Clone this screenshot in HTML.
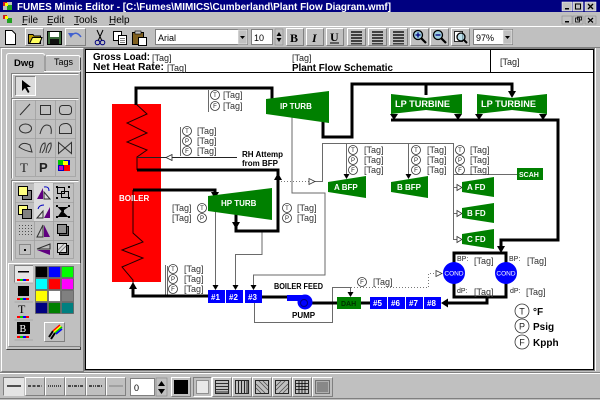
<!DOCTYPE html>
<html><head><meta charset="utf-8">
<style>
html,body{margin:0;padding:0;background:#c0c0c0;}
svg{display:block;font-family:"Liberation Sans",Arial,sans-serif;}
</style></head><body>
<svg width="600" height="400" viewBox="0 0 600 400" xmlns="http://www.w3.org/2000/svg">
<rect width="600" height="400" fill="#c0c0c0"/>

<!-- ===== TITLE BAR ===== -->
<rect x="0" y="0" width="600" height="12" fill="#000080"/>
<rect x="3" y="2" width="9" height="8" fill="#c0c0c0"/><rect x="3" y="2" width="4" height="4" fill="#d02020"/><rect x="7" y="5" width="5" height="5" fill="#20a020"/><rect x="5" y="3" width="3" height="3" fill="#ffff00"/>
<text x="17" y="10" font-size="10" font-weight="bold" fill="#fff" textLength="374" lengthAdjust="spacingAndGlyphs">FUMES Mimic Editor - [C:\Fumes\MIMICS\Cumberland\Plant Flow Diagram.wmf]</text>
<g>
<rect x="562" y="2" width="10" height="9" fill="#c0c0c0" stroke="#fff" stroke-width="0.5"/><rect x="565" y="8" width="4" height="1.5" fill="#000"/>
<rect x="573" y="2" width="10" height="9" fill="#c0c0c0" stroke="#fff" stroke-width="0.5"/><rect x="575.5" y="4" width="5" height="5" fill="none" stroke="#000"/>
<rect x="585" y="2" width="11" height="9" fill="#c0c0c0" stroke="#fff" stroke-width="0.5"/><path d="M588,4 L593,9 M593,4 L588,9" stroke="#000" stroke-width="1.3"/>
</g>

<!-- ===== MENU BAR ===== -->
<rect x="3" y="15" width="9" height="8" fill="#c0c0c0"/><rect x="3" y="15" width="4" height="4" fill="#d02020"/><rect x="7" y="18" width="5" height="5" fill="#20a020"/><rect x="5" y="16" width="3" height="3" fill="#ffff00"/>
<g font-size="10" fill="#000">
<text x="22" y="23">File</text><rect x="22" y="24" width="5" height="0.8" fill="#000"/>
<text x="47" y="23">Edit</text><rect x="47" y="24" width="5" height="0.8" fill="#000"/>
<text x="74" y="23">Tools</text><rect x="74" y="24" width="5" height="0.8" fill="#000"/>
<text x="109" y="23">Help</text><rect x="109" y="24" width="6" height="0.8" fill="#000"/>
</g>
<g>
<rect x="562" y="16" width="10" height="8" fill="#c0c0c0" stroke="#808080" stroke-width="0.5"/><rect x="565" y="21" width="4" height="1.5" fill="#000"/>
<rect x="573" y="16" width="10" height="8" fill="#c0c0c0" stroke="#808080" stroke-width="0.5"/><rect x="575.5" y="18" width="4" height="4" fill="none" stroke="#000" stroke-width="0.8"/><rect x="577.5" y="17" width="4" height="3" fill="none" stroke="#000" stroke-width="0.8"/>
<rect x="585" y="16" width="11" height="8" fill="#c0c0c0" stroke="#808080" stroke-width="0.5"/><path d="M588,18 L593,22.5 M593,18 L588,22.5" stroke="#000" stroke-width="1.2"/>
</g>

<!-- ===== TOOLBAR ===== -->
<line x1="0" y1="26.5" x2="600" y2="26.5" stroke="#fff"/>
<line x1="0" y1="47.5" x2="600" y2="47.5" stroke="#808080"/>
<!-- new -->
<path d="M5.5,30.5 H12 L15.5,34 V44.5 H5.5 Z" fill="#fff" stroke="#000"/>
<!-- open (raised) -->
<path d="M25.5,45.5 V28.5 H43.5" stroke="#fff" fill="none"/><path d="M25.5,45.5 H43.5 V28.5" stroke="#808080" fill="none"/>
<path d="M28.5,34.5 H33 L34,36 H40.5 V43.5 H28.5 Z" fill="#c0a000" stroke="#000"/><path d="M29.5,43.5 L32.5,37.5 H42 L39.5,43.5 Z" fill="#ffff60" stroke="#000"/>
<!-- save -->
<rect x="47.5" y="31.5" width="14" height="13" fill="#3a6a3a" stroke="#000"/><rect x="50" y="32" width="9" height="5" fill="#fff"/><rect x="50" y="39" width="9" height="5" fill="#101010"/>
<!-- undo (raised) -->
<path d="M65.5,45.5 V28.5 H85.5" stroke="#fff" fill="none"/><path d="M65.5,45.5 H85.5 V28.5" stroke="#808080" fill="none"/>
<path d="M71,36 Q76,30 81,37" stroke="#4060d0" stroke-width="1.5" fill="none"/><polygon points="68,33 73,33 71,38" fill="#4060d0"/>
<!-- cut -->
<path d="M97,30 L102,41 M103,30 L98,41" stroke="#000" stroke-width="1"/><circle cx="97.5" cy="42.5" r="2.3" fill="none" stroke="#000080"/><circle cx="102.5" cy="42.5" r="2.3" fill="none" stroke="#000080"/>
<!-- copy -->
<rect x="113.5" y="31.5" width="8" height="9" fill="#fff" stroke="#000"/><rect x="118.5" y="35.5" width="8" height="9" fill="#fff" stroke="#000"/><path d="M120,38.5 H125 M120,40.5 H125 M120,42.5 H125" stroke="#000" stroke-width="0.6"/>
<!-- paste -->
<rect x="132.5" y="32.5" width="11" height="12" fill="#806020" stroke="#000"/><rect x="135" y="31" width="6" height="3" fill="#c0c0c0" stroke="#000" stroke-width="0.6"/><rect x="138.5" y="37.5" width="8" height="8" fill="#fff" stroke="#000"/>
<!-- font combo -->
<rect x="155" y="29" width="93" height="16" fill="#808080"/><rect x="156" y="30" width="91" height="14" fill="#fff"/>
<text x="158" y="41" font-size="9" fill="#000">Arial</text>
<rect x="238" y="30" width="9" height="14" fill="#c0c0c0" stroke="#fff" stroke-width="0.5"/><polygon points="240,36 245,36 242.5,39" fill="#000"/>
<!-- size -->
<rect x="251" y="29" width="22" height="16" fill="#808080"/><rect x="252" y="30" width="20" height="14" fill="#fff"/>
<text x="254" y="41" font-size="9" fill="#000">10</text>
<rect x="275" y="29" width="8" height="16" fill="#c0c0c0" stroke="#808080" stroke-width="0.5"/><polygon points="276.5,36 281.5,36 279,32" fill="#000"/><polygon points="276.5,38 281.5,38 279,42" fill="#000"/>
<!-- B I U -->
<g fill="none">
<path d="M286.5,45.5 V28.5 H303.5" stroke="#fff"/><path d="M286.5,45.5 H303.5 V28.5" stroke="#808080"/>
<path d="M306.5,45.5 V28.5 H323.5" stroke="#fff"/><path d="M306.5,45.5 H323.5 V28.5" stroke="#808080"/>
<path d="M326.5,45.5 V28.5 H343.5" stroke="#fff"/><path d="M326.5,45.5 H343.5 V28.5" stroke="#808080"/>
<path d="M347.5,45.5 V28.5 H365.5" stroke="#fff"/><path d="M347.5,45.5 H365.5 V28.5" stroke="#808080"/>
<path d="M368.5,45.5 V28.5 H386.5" stroke="#fff"/><path d="M368.5,45.5 H386.5 V28.5" stroke="#808080"/>
<path d="M389.5,45.5 V28.5 H407.5" stroke="#fff"/><path d="M389.5,45.5 H407.5 V28.5" stroke="#808080"/>
<path d="M410.5,45.5 V28.5 H428.5" stroke="#fff"/><path d="M410.5,45.5 H428.5 V28.5" stroke="#808080"/>
<path d="M430.5,45.5 V28.5 H448.5" stroke="#fff"/><path d="M430.5,45.5 H448.5 V28.5" stroke="#808080"/>
<path d="M451.5,45.5 V28.5 H469.5" stroke="#fff"/><path d="M451.5,45.5 H469.5 V28.5" stroke="#808080"/>
</g>
<text x="290" y="42" font-size="12" font-weight="bold" font-family="Liberation Serif, serif" fill="#000">B</text>
<text x="312" y="42" font-size="12" font-weight="bold" font-style="italic" font-family="Liberation Serif, serif" fill="#000">I</text>
<text x="330" y="41" font-size="12" font-weight="bold" font-family="Liberation Serif, serif" fill="#000">U</text><rect x="330" y="42.5" width="9" height="1" fill="#000"/>
<g fill="#404040">
<rect x="351" y="31" width="11" height="2"/><rect x="351" y="34" width="11" height="2"/><rect x="351" y="37" width="11" height="2"/><rect x="351" y="40" width="11" height="2"/><rect x="351" y="43" width="11" height="1.5"/>
<rect x="372" y="31" width="11" height="2"/><rect x="372" y="34" width="11" height="2"/><rect x="372" y="37" width="11" height="2"/><rect x="372" y="40" width="11" height="2"/><rect x="372" y="43" width="11" height="1.5"/>
<rect x="393" y="31" width="11" height="2"/><rect x="393" y="34" width="11" height="2"/><rect x="393" y="37" width="11" height="2"/><rect x="393" y="40" width="11" height="2"/><rect x="393" y="43" width="11" height="1.5"/>
</g>
<!-- zoom icons -->
<g stroke-width="1.3">
<circle cx="418" cy="35" r="4.5" fill="#a0d0e0" stroke="#000"/><path d="M421,38 L426,43" stroke="#000" stroke-width="2.2"/><path d="M415.5,35 H420.5 M418,32.5 V37.5" stroke="#000080"/>
<circle cx="438" cy="35" r="4.5" fill="#a0d0e0" stroke="#000"/><path d="M441,38 L446,43" stroke="#000" stroke-width="2.2"/><path d="M435.5,35 H440.5" stroke="#000080"/>
<rect x="454.5" y="31.5" width="8" height="10" fill="#fff" stroke="#000" stroke-width="0.8"/><circle cx="461" cy="37" r="4" fill="#a0d0e0" fill-opacity="0.7" stroke="#000"/><path d="M464,40 L467,43" stroke="#000" stroke-width="2"/>
</g>
<!-- 97% combo -->
<rect x="473" y="29" width="40" height="16" fill="#808080"/><rect x="474" y="30" width="38" height="14" fill="#fff"/>
<text x="476" y="41" font-size="9" fill="#000">97%</text>
<rect x="503" y="30" width="9" height="14" fill="#c0c0c0" stroke="#fff" stroke-width="0.5"/><polygon points="505,36 510,36 507.5,39" fill="#000"/>

<!-- ===== LEFT PANEL ===== -->
<path d="M1.5,371.5 V48.5 H83.5" stroke="#fff" fill="none"/>
<path d="M1.5,371.5 H83.5 V48.5" stroke="#808080" fill="none"/>
<!-- tabs -->
<path d="M45.5,70 V57.5 Q45.5,55.5 47.5,55.5 H78 Q80,55.5 80,57.5 V70" fill="#c0c0c0" stroke="#fff"/>
<path d="M80.5,57.5 V70" stroke="#404040"/>
<text x="54" y="65" font-size="9" fill="#000">Tags</text>
<path d="M6.5,349 V71.5 H7.5 M45,71.5 H80.5" stroke="#fff" fill="none"/>
<path d="M6.5,349.5 H80.5 V71.5" stroke="#404040" fill="none"/>
<path d="M6.5,72 V56 Q6.5,53.5 9,53.5 H42.5 Q44.5,53.5 44.5,56 V72" fill="#c0c0c0" stroke="#fff"/>
<path d="M45,55.5 V71" stroke="#404040"/>
<text x="14" y="66" font-size="9.5" font-weight="bold" fill="#000">Dwg</text>

<!-- group frames -->
<g fill="none">
<path d="M11.5,97.5 V73.5 H78.5" stroke="#808080"/><path d="M12.5,97.5 V74.5 H78.5" stroke="#fff"/>
<path d="M11.5,178.5 V98.5 H78.5" stroke="#808080"/><path d="M12.5,178.5 V99.5 H78.5" stroke="#fff"/>
<path d="M11.5,260.5 V180.5 H78.5" stroke="#808080"/><path d="M12.5,260.5 V181.5 H78.5" stroke="#fff"/>
<path d="M8.5,346.5 V263.5 H80.5" stroke="#fff"/><path d="M8.5,346.5 H80.5 V263.5" stroke="#808080"/>
</g>
<!-- arrow button (pressed) -->
<rect x="15" y="76" width="20" height="20" fill="#dcdcdc"/>
<path d="M15.5,95.5 V76.5 H35" stroke="#808080" fill="none"/><path d="M15.5,95.5 H35.5 V76.5" stroke="#fff" fill="none"/>
<polygon points="22,80 22,91 25,88 28,93 29.5,92 27,87 31,87" fill="#000"/>

<!-- tool grid -->
<g fill="none" stroke="#a0a0a0" stroke-width="0.8">
<path d="M15.5,100 V176 M35.5,100 V176 M55.5,100 V176 M75.5,100 V176"/>
<path d="M15,100.5 H76 M15,119.5 H76 M15,138.5 H76 M15,157.5 H76 M15,176.5 H76"/>
</g>
<g fill="none" stroke="#303030" stroke-width="1">
<path d="M20,115 L30,104"/>
<rect x="40.5" y="105.5" width="10" height="9"/>
<rect x="59.5" y="105.5" width="12" height="9" rx="3"/>
<ellipse cx="25.5" cy="128.5" rx="6" ry="4.5"/>
<path d="M40,134 Q43,122 50,126 Q52,129 51,134"/>
<path d="M59.5,133.5 V127 Q61,123 67,123.5 Q71.5,125 71.5,130 V133.5 Z"/>
<path d="M19,147 Q22,141 30,145 L32,152 Q25,151 19,147 Z"/>
<path d="M40,153 Q41,143 45,143 Q46,148 42,153 M46,153 Q47,143 51,143 Q52,148 48,153"/>
<path d="M58.5,142.5 L71.5,153.5 V142.5 L58.5,153.5 Z"/>
</g>
<text x="20" y="172" font-size="13" font-family="Liberation Serif, serif" fill="#202020">T</text>
<text x="39" y="172" font-size="13" font-weight="bold" fill="#202020">P</text>
<rect x="58" y="160" width="12" height="11" fill="#0000c0"/><rect x="58" y="160" width="6" height="5" fill="#00c000"/><rect x="64" y="165" width="6" height="6" fill="#ff0000"/><rect x="63" y="161" width="5" height="4" fill="#ffff00"/><rect x="59" y="166" width="4" height="4" fill="#c000c0"/>

<!-- arrange grid -->
<g fill="none" stroke="#a0a0a0" stroke-width="0.8">
<path d="M15.5,183 V258 M34.5,183 V258 M53.5,183 V258 M73.5,183 V258"/>
<path d="M15,183.5 H74 M15,202.5 H74 M15,221.5 H74 M15,240.5 H74 M15,258.5 H74"/>
</g>
<rect x="34" y="183" width="19" height="38" fill="#dcdcdc"/>
<rect x="22.5" y="190.5" width="9" height="9" fill="#808080" stroke="#000"/><rect x="18.5" y="186.5" width="9" height="9" fill="#ffff80" stroke="#000"/>
<rect x="18.5" y="205.5" width="9" height="9" fill="#ffff80" stroke="#000"/><rect x="22.5" y="209.5" width="9" height="9" fill="#808080" stroke="#000"/>
<polygon points="37,199 43,188 43,199" fill="#600080"/><polygon points="44,199 50,199 44,192" fill="none" stroke="#303030"/><path d="M44,187 Q49,186 49,191" stroke="#0000c0" fill="none"/>
<polygon points="44,218 50,207 50,218" fill="#600080"/><polygon points="37,218 43,218 43,211" fill="none" stroke="#303030"/><path d="M38,209 Q39,205 44,205" stroke="#0000c0" fill="none"/>
<g fill="none" stroke="#000"><rect x="57.5" y="187.5" width="7" height="6"/><rect x="61.5" y="191.5" width="7" height="6"/></g>
<g fill="#000"><rect x="56" y="186" width="2" height="2"/><rect x="68" y="186" width="2" height="2"/><rect x="56" y="197" width="2" height="2"/><rect x="68" y="197" width="2" height="2"/>
<rect x="56" y="205" width="2" height="2"/><rect x="68" y="205" width="2" height="2"/><rect x="56" y="216" width="2" height="2"/><rect x="68" y="216" width="2" height="2"/><rect x="62" y="210" width="2" height="2"/></g>
<path d="M58,207 L62,211 L68,207 M58,217 L62,211 L68,217" stroke="#000" stroke-width="0.7"/>
<g fill="#505050">
<rect x="19" y="225" width="1" height="1"/><rect x="22" y="225" width="1" height="1"/><rect x="25" y="225" width="1" height="1"/><rect x="28" y="225" width="1" height="1"/><rect x="31" y="225" width="1" height="1"/>
<rect x="19" y="228" width="1" height="1"/><rect x="22" y="228" width="1" height="1"/><rect x="25" y="228" width="1" height="1"/><rect x="28" y="228" width="1" height="1"/><rect x="31" y="228" width="1" height="1"/>
<rect x="19" y="231" width="1" height="1"/><rect x="22" y="231" width="1" height="1"/><rect x="25" y="231" width="1" height="1"/><rect x="28" y="231" width="1" height="1"/><rect x="31" y="231" width="1" height="1"/>
<rect x="19" y="234" width="1" height="1"/><rect x="22" y="234" width="1" height="1"/><rect x="25" y="234" width="1" height="1"/><rect x="28" y="234" width="1" height="1"/><rect x="31" y="234" width="1" height="1"/>
</g>
<polygon points="43,225 43,237 37,237" fill="none" stroke="#303030"/><polygon points="44,225 44,237 50,237" fill="#600080"/>
<rect x="59.5" y="226.5" width="9" height="9" fill="#606060" stroke="#000"/><rect x="57.5" y="224.5" width="9" height="9" fill="#909090" stroke="#000"/>
<rect x="19.5" y="244.5" width="11" height="10" fill="none" stroke="#505050" stroke-dasharray="1,1"/><rect x="24" y="249" width="2" height="2" fill="#000"/>
<polygon points="37,249 50,244 50,249" fill="none" stroke="#303030"/><polygon points="37,250 50,250 50,255" fill="#600080"/>
<rect x="59.5" y="245.5" width="9" height="9" fill="#606060" stroke="#000"/><rect x="57.5" y="243.5" width="9" height="9" fill="#e0e0e0" stroke="#000"/><path d="M58,250 L64,244 M60,252 L66,246" stroke="#808080"/>

<!-- color group -->
<rect x="14" y="265" width="19" height="18" fill="#e4e4e4"/>
<path d="M14.5,282.5 V265.5 H33" stroke="#808080" fill="none"/>
<rect x="18" y="271" width="11" height="1.5" fill="#000"/>
<g>
<rect x="17" y="279" width="3" height="2" fill="#f00"/><rect x="20" y="279" width="3" height="2" fill="#0c0"/><rect x="23" y="279" width="3" height="2" fill="#00f"/><rect x="26" y="279" width="3" height="2" fill="#f00"/>
<rect x="17" y="298" width="3" height="2" fill="#f00"/><rect x="20" y="298" width="3" height="2" fill="#0c0"/><rect x="23" y="298" width="3" height="2" fill="#00f"/><rect x="26" y="298" width="3" height="2" fill="#f00"/>
<rect x="17" y="316" width="3" height="2" fill="#f00"/><rect x="20" y="316" width="3" height="2" fill="#0c0"/><rect x="23" y="316" width="3" height="2" fill="#00f"/><rect x="26" y="316" width="3" height="2" fill="#f00"/>
<rect x="17" y="336" width="3" height="2" fill="#f00"/><rect x="20" y="336" width="3" height="2" fill="#0c0"/><rect x="23" y="336" width="3" height="2" fill="#00f"/><rect x="26" y="336" width="3" height="2" fill="#f00"/>
</g>
<rect x="18" y="286" width="11" height="10" fill="#000"/>
<text x="18" y="313" font-size="12" font-family="Liberation Serif, serif" fill="#000">T</text>
<rect x="17" y="322" width="13" height="12" fill="#000"/>
<text x="19.5" y="332" font-size="10" font-family="Liberation Serif, serif" fill="#fff">B</text>
<path d="M14.5,283 H33 M14.5,302 H33 M14.5,320 H33 M14.5,340 H33" stroke="#a0a0a0" stroke-width="0.7"/>
<g stroke="#606060" stroke-width="0.8">
<rect x="35.5" y="266.5" width="12" height="11" fill="#000"/><rect x="48.5" y="266.5" width="12" height="11" fill="#0000ff"/><rect x="61.5" y="266.5" width="12" height="11" fill="#00ff00"/>
<rect x="35.5" y="278.5" width="12" height="11" fill="#00ffff"/><rect x="48.5" y="278.5" width="12" height="11" fill="#ff0000"/><rect x="61.5" y="278.5" width="12" height="11" fill="#ff00ff"/>
<rect x="35.5" y="290.5" width="12" height="11" fill="#ffff00"/><rect x="48.5" y="290.5" width="12" height="11" fill="#ffffff"/><rect x="61.5" y="290.5" width="12" height="11" fill="#808080"/>
<rect x="35.5" y="302.5" width="12" height="11" fill="#000080"/><rect x="48.5" y="302.5" width="12" height="11" fill="#008000"/><rect x="61.5" y="302.5" width="12" height="11" fill="#008080"/>
</g>
<path d="M44.5,341.5 V322.5 H64.5" stroke="#fff" fill="none"/><path d="M44.5,341.5 H64.5 V322.5" stroke="#808080" fill="none"/>
<path d="M49,337 L53,331 M51,339 L55,333" stroke="#000" stroke-width="2"/>
<path d="M53,331 L60,325" stroke="#f00" stroke-width="1.5"/><path d="M54,332 L61,326" stroke="#ff0" stroke-width="1.5"/><path d="M55,333 L62,327" stroke="#0c0" stroke-width="1.5"/><path d="M56,334 L62,329" stroke="#00f" stroke-width="1.5"/>

<!-- ===== CANVAS ===== -->
<rect x="84.5" y="48.5" width="510" height="322" fill="none" stroke="#808080"/>
<rect x="85.5" y="49.5" width="508" height="320" fill="#fff" stroke="#000"/>
<line x1="595.5" y1="48" x2="595.5" y2="371" stroke="#fff"/>
<line x1="86" y1="72.5" x2="593" y2="72.5" stroke="#000"/>
<line x1="490.5" y1="50" x2="490.5" y2="72" stroke="#000"/>
<text x="93" y="60" font-size="10" font-weight="bold" fill="#000" textLength="57" lengthAdjust="spacingAndGlyphs">Gross Load:</text>
<text x="152" y="61" font-size="9" fill="#222">[Tag]</text>
<text x="93" y="70" font-size="10" font-weight="bold" fill="#000" textLength="71" lengthAdjust="spacingAndGlyphs">Net Heat Rate:</text>
<text x="167" y="71" font-size="9" fill="#222">[Tag]</text>
<text x="292" y="61" font-size="9" fill="#222">[Tag]</text>
<text x="292" y="71" font-size="10" font-weight="bold" fill="#000" textLength="101" lengthAdjust="spacingAndGlyphs">Plant Flow Schematic</text>
<text x="500" y="65" font-size="9" fill="#222">[Tag]</text>

<!-- ===== DIAGRAM ===== -->
<!-- boiler -->
<rect x="112" y="104" width="49" height="178" fill="#ff0000"/>
<polyline points="136,104 147,114 127,123 147,133 127,142 147,150 137,157 137,170" fill="none" stroke="#200000" stroke-width="1"/>
<polyline points="133,190 133,233 143,242 122,250 143,258 122,267 133,280 133,283" fill="none" stroke="#200000" stroke-width="1"/>
<text x="119" y="201" font-size="8" font-weight="bold" fill="#fff">BOILER</text>

<!-- thin gray lines -->
<g fill="none" stroke="#6a6a6a" stroke-width="1">
<path d="M292,117 V193 H325 V275 H253.5 V287"/>
<path d="M215.5,210 V287"/>
<path d="M262,232 V254.5 H235.5 V287"/>
<path d="M315,181.5 H322.5 V143.5 H453.5 V239.5 H457"/>
<path d="M346.5,143 V175"/>
<path d="M408.5,143 V175"/>
<path d="M453,187.5 H457 M453,213.5 H457"/>
<path d="M453,174.5 H517"/>
<path d="M254.5,303 V322.5 H332.5 V287.5 H350.5 V294"/>
<path d="M208.5,90 V112"/>
<path d="M180.5,127 V156"/>
<path d="M165.5,265 V296 M167.5,266 V296"/>
</g>
<path d="M237,157.5 H137" stroke="#222" stroke-width="1"/>
<polygon points="166,157.5 172,154.5 172,160.5" fill="#fff" stroke="#222" stroke-width="0.8"/>
<!-- dotted -->
<g fill="none" stroke="#777" stroke-width="1" stroke-dasharray="1,2">
<path d="M278,181.5 H309"/>
<path d="M351,287.5 H428.5 V273.5 H436"/>
</g>
<polygon points="309,178.5 309,184.5 315,181.5" fill="#fff" stroke="#333" stroke-width="0.8"/>
<polygon points="436,270.5 436,276.5 442,273.5" fill="#fff" stroke="#333" stroke-width="0.8"/>
<polygon points="457,184.5 457,190.5 462,187.5" fill="#fff" stroke="#333" stroke-width="0.8"/>
<polygon points="457,210.5 457,216.5 462,213.5" fill="#fff" stroke="#333" stroke-width="0.8"/>
<polygon points="457,236.5 457,242.5 462,239.5" fill="#fff" stroke="#333" stroke-width="0.8"/>
<!-- thin arrowheads -->
<g fill="#000">
<polygon points="343.5,174 349.5,174 346.5,179"/>
<polygon points="405.5,174 411.5,174 408.5,179"/>
<polygon points="212.5,285 218.5,285 215.5,290"/>
<polygon points="232.5,285 238.5,285 235.5,290"/>
<polygon points="250.5,285 256.5,285 253.5,290"/>
<polygon points="347.5,292 353.5,292 350.5,297"/>
</g>

<!-- thick lines -->
<g fill="none" stroke="#000" stroke-width="3">
<path d="M136,105 V88 H272 V99"/>
<path d="M323,122 V137 H352 V84 H512 V92"/>
<path d="M426,84 V95"/>
<path d="M391,120 H558 V240 H501 V247"/>
<rect x="454" y="253" width="52" height="44"/>
<path d="M487,297 V303 H446"/>
<path d="M361,303 H370"/>
<path d="M312,303 H337"/>
<path d="M262,297 H288"/>
<path d="M208,296 H133 V288"/>
<path d="M133,190 H215 V193"/>
<path d="M236,212 V231 H278 V170 H137"/>
</g>
<g fill="#000">
<polygon points="508,91 516,91 512,98"/>
<polygon points="497,246 505,246 501,253"/>
<polygon points="448,298.5 448,307.5 441,303"/>
<polygon points="129,289 137,289 133,282"/>
<polygon points="211,192 219,192 215,199"/>
<polygon points="232,222 240,222 236,229"/>
<polygon points="274,180 282,180 278,173"/>
<polygon points="390,114 398,114 394,120"/>
<polygon points="454,114 462,114 458,120"/>
<polygon points="475,114 483,114 479,120"/>
<polygon points="539,114 547,114 543,120"/>
</g>

<!-- turbines and equipment -->
<g fill="#008000">
<polygon points="266,99 329,91 329,123 266,114"/>
<polygon points="208,196 272,188 272,220 208,211"/>
<polygon points="391,94 426,98 462,94 462,114 426,110 391,114"/>
<polygon points="477,94 512,98 547,94 547,114 512,110 477,114"/>
<polygon points="328,182 366,176 366,198 328,192"/>
<polygon points="391,182 428,176 428,198 391,192"/>
<polygon points="462,182 494,177 494,197 462,192"/>
<polygon points="462,208 494,203 494,223 462,218"/>
<polygon points="462,234 494,229 494,249 462,244"/>
<rect x="517" y="168" width="26" height="12"/>
<rect x="337" y="297" width="24" height="12"/>
</g>
<g font-weight="bold" fill="#fff">
<text x="280" y="109" font-size="8">IP TURB</text>
<text x="221" y="206" font-size="8">HP TURB</text>
<text x="395" y="107" font-size="9" textLength="55" lengthAdjust="spacingAndGlyphs">LP TURBINE</text>
<text x="481" y="107" font-size="9" textLength="55" lengthAdjust="spacingAndGlyphs">LP TURBINE</text>
<text x="334" y="190" font-size="8">A BFP</text>
<text x="397" y="190" font-size="8">B BFP</text>
<text x="467" y="190" font-size="8">A FD</text>
<text x="467" y="216" font-size="8">B FD</text>
<text x="467" y="242" font-size="8">C FD</text>
<text x="519" y="177" font-size="7">SCAH</text>
</g>
<text x="341" y="306" font-size="7" font-weight="bold" fill="#003000">DAH</text>

<!-- feedwater heaters -->
<g fill="#0000ff">
<rect x="208" y="290" width="17" height="13"/><rect x="226" y="290" width="17" height="13"/><rect x="245" y="290" width="17" height="13"/>
<rect x="370" y="297" width="17" height="12"/><rect x="388" y="297" width="17" height="12"/><rect x="406" y="297" width="17" height="12"/><rect x="424" y="297" width="17" height="12"/>
</g>
<g font-size="8" font-weight="bold" fill="#fff">
<text x="211" y="300">#1</text><text x="229" y="300">#2</text><text x="248" y="300">#3</text>
<text x="373" y="306">#5</text><text x="391" y="306">#6</text><text x="409" y="306">#7</text><text x="427" y="306">#8</text>
</g>

<!-- pump -->
<rect x="287" y="295" width="18" height="6" fill="#0000ff"/>
<circle cx="305" cy="302" r="7.5" fill="#0000ff"/>
<circle cx="304" cy="303" r="3.5" fill="none" stroke="#000080" stroke-width="1"/>
<text x="274" y="289" font-size="8" font-weight="bold" fill="#000" textLength="49" lengthAdjust="spacingAndGlyphs">BOILER FEED</text>
<text x="292" y="318" font-size="8" font-weight="bold" fill="#000">PUMP</text>

<!-- condensers -->
<circle cx="454" cy="273" r="11" fill="#0000ff"/>
<circle cx="506" cy="273" r="11" fill="#0000ff"/>
<text x="454" y="275.5" font-size="6.5" fill="#fff" text-anchor="middle">COND</text>
<text x="506" y="275.5" font-size="6.5" fill="#fff" text-anchor="middle">COND</text>
<g font-size="7" fill="#222">
<text x="457" y="261">BP:</text><text x="509" y="261">BP:</text>
<text x="457" y="293">dP:</text><text x="510" y="293">dP:</text>
</g>

<!-- RH attemp label -->
<text x="242" y="157" font-size="8" font-weight="bold" fill="#000">RH Attemp</text>
<text x="242" y="166" font-size="8" font-weight="bold" fill="#000">from BFP</text>

<!-- tag circles -->
<g fill="#fff" stroke="#333" stroke-width="0.8">
<circle cx="215" cy="95" r="4.5"/><circle cx="215" cy="106" r="4.5"/>
<circle cx="187" cy="131" r="4.5"/><circle cx="187" cy="141" r="4.5"/><circle cx="187" cy="151" r="4.5"/>
<circle cx="202" cy="208" r="4.5"/><circle cx="202" cy="218" r="4.5"/>
<circle cx="287" cy="208" r="4.5"/><circle cx="287" cy="218" r="4.5"/>
<circle cx="173" cy="269" r="4.5"/><circle cx="173" cy="279" r="4.5"/><circle cx="173" cy="289" r="4.5"/>
<circle cx="353" cy="150" r="4.5"/><circle cx="353" cy="160" r="4.5"/><circle cx="353" cy="170" r="4.5"/>
<circle cx="416" cy="150" r="4.5"/><circle cx="416" cy="160" r="4.5"/><circle cx="416" cy="170" r="4.5"/>
<circle cx="460" cy="150" r="4.5"/><circle cx="460" cy="160" r="4.5"/><circle cx="460" cy="170" r="4.5"/>
<circle cx="362" cy="282" r="4.5"/>
<circle cx="522" cy="311" r="7"/><circle cx="522" cy="326" r="7"/><circle cx="522" cy="342" r="7"/>
</g>
<g font-size="6" fill="#222" text-anchor="middle">
<text x="215" y="97">T</text><text x="215" y="108">F</text>
<text x="187" y="133">T</text><text x="187" y="143">P</text><text x="187" y="153">F</text>
<text x="202" y="210">T</text><text x="202" y="220">P</text>
<text x="287" y="210">T</text><text x="287" y="220">P</text>
<text x="173" y="271">T</text><text x="173" y="281">P</text><text x="173" y="291">F</text>
<text x="353" y="152">T</text><text x="353" y="162">P</text><text x="353" y="172">F</text>
<text x="416" y="152">T</text><text x="416" y="162">P</text><text x="416" y="172">F</text>
<text x="460" y="152">T</text><text x="460" y="162">P</text><text x="460" y="172">F</text>
<text x="362" y="284">F</text>
</g>
<g font-size="9" fill="#222" text-anchor="middle">
<text x="522" y="314.5">T</text><text x="522" y="329.5">P</text><text x="522" y="345.5">F</text>
</g>
<g font-size="9" fill="#333">
<text x="223" y="98">[Tag]</text><text x="223" y="109">[Tag]</text>
<text x="197" y="134">[Tag]</text><text x="197" y="144">[Tag]</text><text x="197" y="154">[Tag]</text>
<text x="172" y="211">[Tag]</text><text x="172" y="221">[Tag]</text>
<text x="297" y="211">[Tag]</text><text x="297" y="221">[Tag]</text>
<text x="184" y="272">[Tag]</text><text x="184" y="282">[Tag]</text><text x="184" y="292">[Tag]</text>
<text x="364" y="153">[Tag]</text><text x="364" y="163">[Tag]</text><text x="364" y="173">[Tag]</text>
<text x="427" y="153">[Tag]</text><text x="427" y="163">[Tag]</text><text x="427" y="173">[Tag]</text>
<text x="470" y="153">[Tag]</text><text x="470" y="163">[Tag]</text><text x="470" y="173">[Tag]</text>
<text x="373" y="285">[Tag]</text>
<text x="474" y="264">[Tag]</text><text x="527" y="264">[Tag]</text>
<text x="474" y="295">[Tag]</text><text x="526" y="295">[Tag]</text>
</g>
<!-- legend -->
<g font-size="10" font-weight="bold" fill="#000">
<text x="533" y="315">°F</text>
<text x="533" y="330">Psig</text>
<text x="533" y="346">Kpph</text>
</g>

<!-- ===== BOTTOM TOOLBAR ===== -->
<line x1="0" y1="372.5" x2="600" y2="372.5" stroke="#808080"/>
<line x1="0" y1="373.5" x2="600" y2="373.5" stroke="#fff"/>
<line x1="0" y1="398.5" x2="600" y2="398.5" stroke="#808080"/>
<rect x="3" y="377" width="21" height="19" fill="#e4e4e4"/>
<path d="M3.5,395.5 V377.5 H24" stroke="#808080" fill="none"/>
<g fill="none">
<path d="M25.5,395.5 V377.5 H44.5" stroke="#fff"/><path d="M25.5,395.5 H44.5 V377.5" stroke="#808080"/>
<path d="M45.5,395.5 V377.5 H64.5" stroke="#fff"/><path d="M45.5,395.5 H64.5 V377.5" stroke="#808080"/>
<path d="M65.5,395.5 V377.5 H85.5" stroke="#fff"/><path d="M65.5,395.5 H85.5 V377.5" stroke="#808080"/>
<path d="M86.5,395.5 V377.5 H105.5" stroke="#fff"/><path d="M86.5,395.5 H105.5 V377.5" stroke="#808080"/>
<path d="M106.5,395.5 V377.5 H125.5" stroke="#fff"/><path d="M106.5,395.5 H125.5 V377.5" stroke="#808080"/>
</g>
<g stroke-width="1.3">
<path d="M7,386 H21" stroke="#000"/>
<path d="M28,386 H42" stroke="#000" stroke-dasharray="3,1.5"/>
<path d="M48,386 H62" stroke="#000" stroke-dasharray="1,1"/>
<path d="M68,386 H83" stroke="#000" stroke-dasharray="3,1,1,1"/>
<path d="M89,386 H103" stroke="#000" stroke-dasharray="3,1,1,1,1,1"/>
<path d="M109,386 H123" stroke="#909090"/>
</g>
<rect x="130" y="378" width="25" height="18" fill="#808080"/><rect x="131" y="379" width="23" height="16" fill="#fff"/>
<text x="134" y="391" font-size="9" fill="#000">0</text>
<rect x="156" y="378" width="11" height="18" fill="#c0c0c0" stroke="#808080" stroke-width="0.6"/>
<polygon points="158,386 165,386 161.5,381" fill="#000"/><polygon points="158,389 165,389 161.5,394" fill="#000"/>
<path d="M171.5,396.5 V377.5 H190.5" stroke="#fff" fill="none"/><path d="M171.5,396.5 H190.5 V377.5" stroke="#808080" fill="none"/>
<rect x="174" y="380" width="14" height="14" fill="#000"/>
<g fill="none">
<path d="M193.5,396.5 V377.5 H211.5" stroke="#808080"/><path d="M193.5,396.5 H211.5 V377.5" stroke="#fff"/>
<path d="M212.5,396.5 V377.5 H231.5" stroke="#fff"/><path d="M212.5,396.5 H231.5 V377.5" stroke="#808080"/>
<path d="M232.5,396.5 V377.5 H251.5" stroke="#fff"/><path d="M232.5,396.5 H251.5 V377.5" stroke="#808080"/>
<path d="M252.5,396.5 V377.5 H271.5" stroke="#fff"/><path d="M252.5,396.5 H271.5 V377.5" stroke="#808080"/>
<path d="M272.5,396.5 V377.5 H291.5" stroke="#fff"/><path d="M272.5,396.5 H291.5 V377.5" stroke="#808080"/>
<path d="M292.5,396.5 V377.5 H311.5" stroke="#fff"/><path d="M292.5,396.5 H311.5 V377.5" stroke="#808080"/>
<path d="M312.5,396.5 V377.5 H332.5" stroke="#fff"/><path d="M312.5,396.5 H332.5 V377.5" stroke="#808080"/>
</g>
<rect x="196.5" y="380.5" width="12" height="13" fill="#e8e8e8" stroke="#909090"/>
<g stroke="#000" stroke-width="0.8" fill="none">
<rect x="215.5" y="380.5" width="13" height="13"/><path d="M216,383.5 H228 M216,386.5 H228 M216,389.5 H228 M216,392 H228"/>
<rect x="235.5" y="380.5" width="13" height="13"/><path d="M238.5,381 V393 M241.5,381 V393 M244.5,381 V393 M247,381 V393"/>
<rect x="255.5" y="380.5" width="13" height="13"/><path d="M256,384 L265,393 M256,388 L261,393 M259,381 L268,390 M263,381 L268,386" stroke="#505050"/>
<rect x="275.5" y="380.5" width="13" height="13"/><path d="M276,390 L285,381 M276,386 L281,381 M279,393 L288,384 M283,393 L288,388" stroke="#505050"/>
<rect x="295.5" y="380.5" width="13" height="13"/><path d="M296,383.5 H308 M296,386.5 H308 M296,389.5 H308 M299,381 V393 M302,381 V393 M305,381 V393"/>
<rect x="315.5" y="380.5" width="14" height="13" fill="#b0b0b0" stroke-dasharray="1,1"/>
</g>
<rect x="317" y="382" width="11" height="10" fill="#606060" opacity="0.5"/>
</svg>
</body></html>
